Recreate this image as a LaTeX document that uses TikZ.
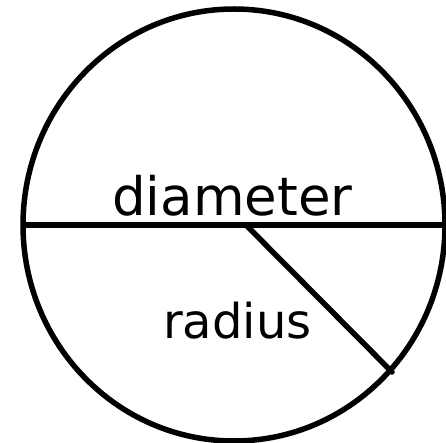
\documentclass[tikz,border=0pt]{standalone}
\usepackage{fontspec}
\setmainfont{DejaVu Sans}
\begin{document}
\begin{tikzpicture}[x=1pt,y=-1pt,
  stroke/.style={line width=5.5pt,black,line cap=round},
  lbl/.style={inner sep=0pt,anchor=base west,font=\fontsize{53}{53}\selectfont}]
\useasboundingbox (0,0) rectangle (446,443);
\fill[white] (0,0) rectangle (446,443);
\coordinate (O) at (234,225);
\coordinate (L) at (24,225);
\coordinate (R) at (450,225);
\coordinate (C) at (246,225);
\coordinate (P) at (392,372);
\draw[stroke] (O) ellipse [x radius=211, y radius=216];
\draw[stroke,line cap=butt] (L) -- (R);
\draw[stroke] (C) -- (P);
\node[lbl] (d) at (112,216) {diameter};
\node[lbl,font=\fontsize{48}{48}\selectfont] (r) at (163,338) {radius};
\end{tikzpicture}
\end{document}
